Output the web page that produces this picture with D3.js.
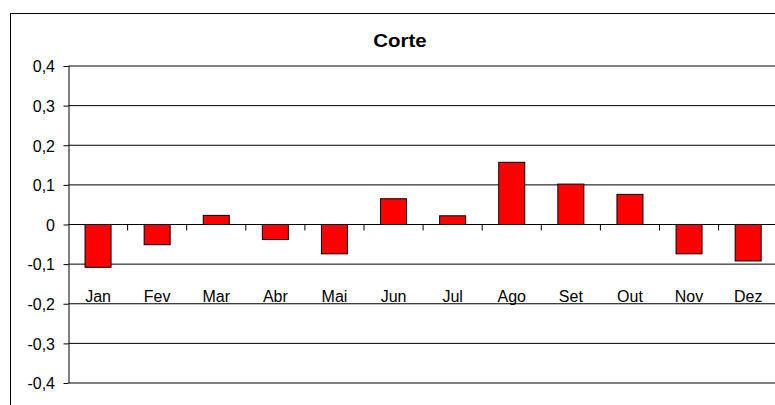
<!DOCTYPE html>
<html>
<head>
<meta charset="utf-8">
<script src="https://cdn.jsdelivr.net/npm/d3@7"></script>
<style>
  body { margin: 0; background: #fff; }
  text { font-family: Arial, "Liberation Sans", sans-serif; fill: #000; }
</style>
</head>
<body>
<div id="chart"></div>
<script>
let months = ['Jan', 'Fev', 'Mar', 'Abr', 'Mai', 'Jun', 'Jul', 'Ago', 'Set', 'Out', 'Nov', 'Dez'];
let values = [-0.108, -0.051, 0.023, -0.038, -0.074, 0.065, 0.022, 0.157, 0.102, 0.076, -0.074, -0.092];
let yTicks = [-0.4, -0.3, -0.2, -0.1, 0, 0.1, 0.2, 0.3, 0.4];

let margin = {top: 66, left: 68.5};
let width = 709.2;
let height = 317;

let x = d3.scaleBand().domain(months).range([0, width]).paddingInner(0.56).paddingOuter(0.28);
let y = d3.scaleLinear().domain([-0.4, 0.4]).range([height, 0]);
let step = width / months.length;

let svg = d3.select('#chart')
  .append('svg')
  .attr('width', 775)
  .attr('height', 405);

svg.append('rect')
  .attr('x', 10.5)
  .attr('y', 13.5)
  .attr('width', 800)
  .attr('height', 420)
  .attr('fill', 'none')
  .attr('stroke', '#000');

svg.append('text')
  .attr('x', 400)
  .attr('y', 47.5)
  .attr('text-anchor', 'middle')
  .attr('font-size', 17.5)
  .attr('font-weight', 'bold')
  .attr('transform', 'translate(400,0) scale(1.17,1) translate(-400,0)')
  .text('Corte');

let g = svg.append('g')
  .attr('transform', `translate(${margin.left},${margin.top})`);

// gridlines
g.append('g')
  .attr('class', 'grid')
  .selectAll('line')
  .data(yTicks.filter(d => d !== 0))
  .enter()
  .append('line')
  .attr('x1', 0)
  .attr('x2', width)
  .attr('y1', d => y(d))
  .attr('y2', d => y(d))
  .attr('stroke', '#000');

// bars
g.append('g')
  .attr('class', 'bars')
  .selectAll('rect')
  .data(months)
  .enter()
  .append('rect')
  .attr('x', d => x(d))
  .attr('width', x.bandwidth())
  .attr('y', (d, i) => y(Math.max(0, values[i])))
  .attr('height', (d, i) => Math.abs(y(values[i]) - y(0)))
  .attr('fill', '#ff0000')
  .attr('stroke', '#000');

// y axis
let yAxis = g.append('g')
  .attr('class', 'y axis')
  .call(d3.axisLeft(y)
    .tickValues(yTicks)
    .tickSize(5)
    .tickPadding(0)
    .tickFormat(d => d === 0 ? '0' : d.toFixed(1).replace('.', ',')));
yAxis.select('.domain').attr('stroke', '#000').attr('d', `M0.5,0V${height}`);
yAxis.selectAll('text')
  .attr('font-size', 16)
  .attr('font-family', 'Arial, "Liberation Sans", sans-serif')
  .attr('x', -13.5)
  .attr('dy', '0.36em');

// x axis along zero
let xAxis = g.append('g')
  .attr('class', 'x axis')
  .attr('transform', `translate(0,${y(0)})`);
xAxis.append('line')
  .attr('x1', 0)
  .attr('x2', width)
  .attr('stroke', '#000');
xAxis.selectAll('.tick')
  .data(months.slice(1))
  .enter()
  .append('line')
  .attr('class', 'tick')
  .attr('x1', d => x(d) - (step - x.bandwidth()) / 2)
  .attr('x2', d => x(d) - (step - x.bandwidth()) / 2)
  .attr('y1', 0)
  .attr('y2', 6)
  .attr('stroke', '#000');

// month labels sit just above the -0,2 line
g.append('g')
  .attr('class', 'month-labels')
  .selectAll('text')
  .data(months)
  .enter()
  .append('text')
  .attr('text-anchor', 'middle')
  .attr('font-size', 16)
  .attr('x', d => x(d) + x.bandwidth() / 2)
  .attr('y', y(-0.2) - 1.5)
  .text(d => d);
</script>
</body>
</html>
